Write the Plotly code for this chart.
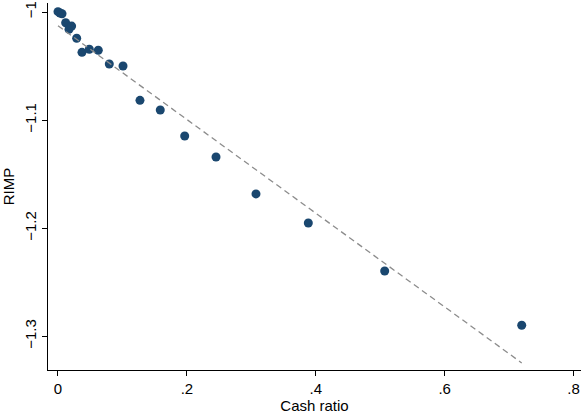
import numpy as np
import plotly.graph_objects as go

# Cash ratio vs. RIMP observations
cash_ratio = [0.000, 0.0031, 0.0062, 0.0119, 0.0171, 0.0212, 0.0290, 0.0372,
              0.0486, 0.0625, 0.0796, 0.1009, 0.1272, 0.1587, 0.1966, 0.2452,
              0.3072, 0.3884, 0.5069, 0.7195]
rimp = [-0.9997, -1.0009, -1.0016, -1.0099, -1.0160, -1.0130, -1.0243, -1.0373,
        -1.0345, -1.0354, -1.0481, -1.0500, -1.0817, -1.0907, -1.1147, -1.1341,
        -1.1683, -1.1952, -1.2396, -1.2898]

x_tick_vals = [0, 0.2, 0.4, 0.6, 0.8]
x_tick_labels = ["0", ".2", ".4", ".6", ".8"]
y_tick_vals = [-1.0, -1.1, -1.2, -1.3]
y_tick_labels = ["\u22121", "\u22121.1", "\u22121.2", "\u22121.3"]

# Linear fit over the observed range
slope, intercept = np.polyfit(cash_ratio, rimp, 1)
fit_x = np.array([min(cash_ratio), max(cash_ratio)])
fit_y = intercept + slope * fit_x

font_family = "Liberation Sans, Arial, Helvetica, sans-serif"

fig = go.Figure()
fig.add_trace(go.Scatter(
    x=cash_ratio, y=rimp, mode="markers",
    marker=dict(color="#1a476f", size=9, line=dict(width=0)),
    showlegend=False, hoverinfo="skip",
))
fig.add_trace(go.Scatter(
    x=fit_x, y=fit_y, mode="lines",
    line=dict(color="#8c8c8c", width=1.3, dash="6px,4px"),
    showlegend=False, hoverinfo="skip",
))

axis_common = dict(
    showgrid=False, zeroline=False, showline=True, linecolor="black",
    linewidth=1, ticks="outside", ticklen=5, tickcolor="black", tickwidth=1,
    tickfont=dict(family=font_family, size=15, color="black"),
    title_font=dict(family=font_family, size=15, color="black"),
)

fig.update_layout(
    width=582, height=416,
    margin=dict(l=48, r=1, t=3, b=46),
    paper_bgcolor="white", plot_bgcolor="white",
    xaxis=dict(
        range=[-0.0155, 0.8115], tickvals=x_tick_vals, ticktext=x_tick_labels,
        title=dict(text="Cash ratio", standoff=2), automargin=False,
        **axis_common,
    ),
    yaxis=dict(
        range=[-1.3312, -0.99167], tickvals=y_tick_vals, ticktext=y_tick_labels,
        tickangle=-90, title=dict(text="RIMP", standoff=4), automargin=False,
        **axis_common,
    ),
)

fig.write_html("out.html")
